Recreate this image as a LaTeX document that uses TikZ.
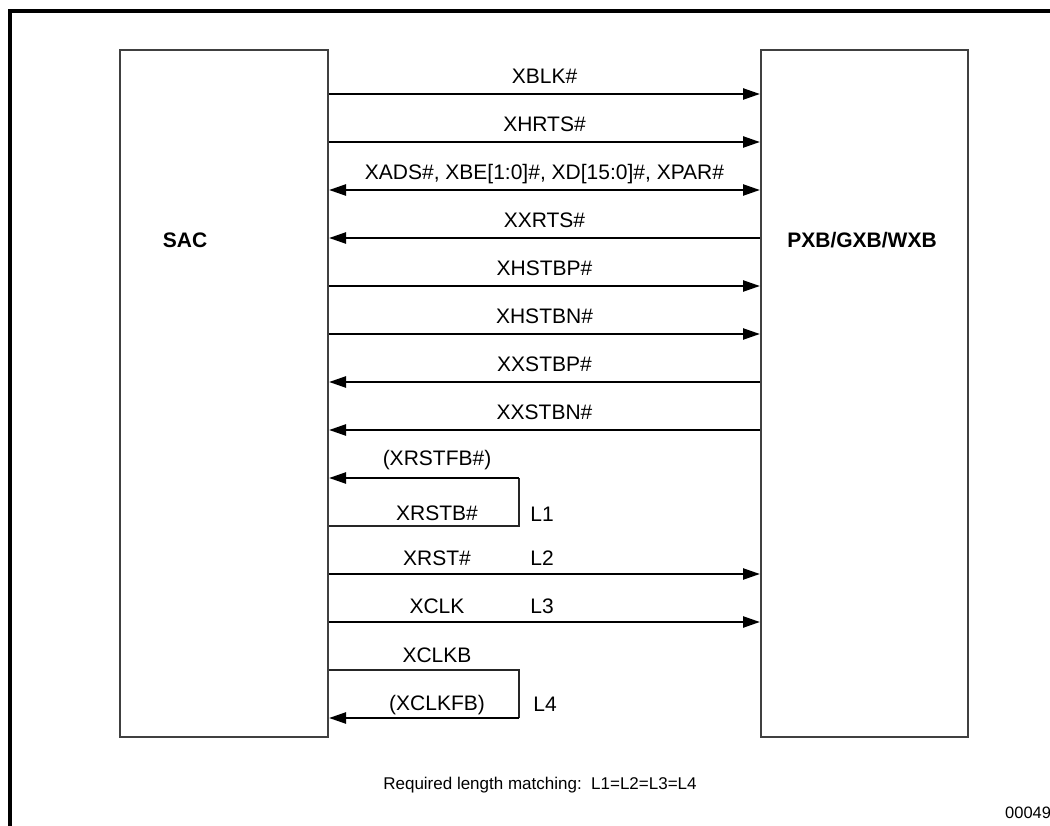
\documentclass[tikz,border=0pt]{standalone}
\usepackage{fontspec}
\setmainfont{Liberation Sans}
\usetikzlibrary{arrows.meta}

\tikzset{
  chip/.style={draw=black!75, line width=2pt, minimum width=#1, minimum height=687pt, inner sep=0pt},
  sig/.style={line width=2.4pt},
  fwd/.style={-{Triangle[length=17pt,width=11pt]}},
  bwd/.style={{Triangle[length=17pt,width=11pt]}-},
  both/.style={{Triangle[length=17pt,width=11pt]}-{Triangle[length=17pt,width=11pt]}},
  fbline/.style={draw=black!85, line width=1.3pt},
  lbl/.style={font=\fontsize{21}{25}\selectfont, inner sep=0pt, text height=15pt, text depth=0pt}
}

\begin{document}
\begin{tikzpicture}[x=1pt,y=-1pt]
\useasboundingbox (0,0) rectangle (1050,826);

\draw[line width=4pt] (10,826) -- (10,11) -- (1050,11);

% Bausteine
\node[chip=208pt] (sac) at (224,393.5) {};
\node[chip=207pt] (pxb) at (864.5,393.5) {};
\node[lbl] (saclbl) at (185,240) {\bfseries SAC};
\node[lbl] (pxblbl) at (862,240) {\bfseries PXB/GXB/WXB};

% Signale zwischen SAC und PXB
	\foreach \y/\dir/\txt in {94/fwd/XBLK\#, 142/fwd/XHRTS\#,
		190/both/{XADS\#, XBE[1:0]\#, XD[15:0]\#, XPAR\#}, 238/bwd/XXRTS\#,
		286/fwd/XHSTBP\#, 334/fwd/XHSTBN\#, 382/bwd/XXSTBP\#, 430/bwd/XXSTBN\#}
		\draw[sig,\dir] (sac.east |- 0,\y) -- (pxb.west |- 0,\y)
			node[lbl, midway, yshift=18pt] {\txt};

% Reset-Schleife
\coordinate (lp1) at (519,478);
\draw[fbline] (sac.east |- 0,526) -| (lp1);
\draw[sig,bwd] (sac.east |- 0,478) -- (lp1);
\node[lbl] (xrstfb) at (437,458) {(XRSTFB\#)};
\node[lbl] (xrstb) at (437,513) {XRSTB\#};
\node[lbl] (l1) at (542,514) {L1};

\draw[sig,fwd] (sac.east |- 0,574) -- (pxb.west |- 0,574);
\node[lbl] (xrst) at (437,558) {XRST\#};
\node[lbl] (l2) at (542,558) {L2};

\draw[sig,fwd] (sac.east |- 0,622) -- (pxb.west |- 0,622);
\node[lbl] (xclk) at (437,606) {XCLK};
\node[lbl] (l3) at (542,606) {L3};

% Takt-Schleife
\coordinate (lp2) at (519,718);
\draw[fbline] (sac.east |- 0,670) -| (lp2);
\draw[sig,bwd] (sac.east |- 0,718) -- (lp2);
\node[lbl] (xclkb) at (437,655) {XCLKB};
\node[lbl] (xclkfb) at (437,703) {(XCLKFB)};
\node[lbl] (l4) at (545,704) {L4};

\node[lbl, font=\fontsize{17}{20}\selectfont] (note) at (540,782) {Required length matching:\ \ L1=L2=L3=L4};
\node[lbl, font=\fontsize{16.5}{19}\selectfont, anchor=west] (fig) at (1005,811) {00049};
\end{tikzpicture}
\end{document}
